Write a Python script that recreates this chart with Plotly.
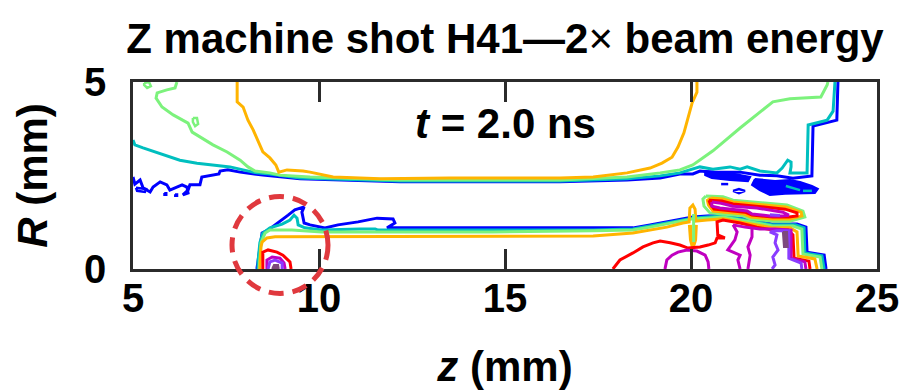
import plotly.graph_objects as go

# ---------------- data: contour polylines (z [mm], R [mm]) -------------
blue_top = [(5.00,2.46),(5.05,2.27),(5.19,2.38),(5.27,2.17),(5.46,2.06),(5.54,2.19),(5.73,2.33),(5.91,2.25),
            (5.99,2.11),(6.18,2.19),(6.32,2.25),(6.45,2.19),(6.48,2.03),(6.34,1.98),(6.48,2.11),(6.53,2.25),
            (6.80,2.25),(6.85,2.46),(7.07,2.49),(7.31,2.54),(7.34,2.62),(7.55,2.65),(7.88,2.59),(8.49,2.51),
            (9.49,2.41),(12.18,2.33),(16.48,2.33),(18.28,2.38),(19.17,2.43),(19.70,2.54),(20.05,2.54),
            (20.24,2.62),(20.59,2.59),(21.32,2.59),(21.85,2.51),(22.31,2.49),(22.74,2.43),(23.25,2.49),
            (23.28,3.82),(23.92,3.98),(23.95,5.0)]
blue_bits = [(5.08,2.17),(5.35,2.14),(5.32,2.06),(5.11,2.09),(5.08,2.17)]
blue_dot1 = [(5.84,2.03),(5.90,2.03),(5.90,1.98),(5.84,1.98),(5.84,2.03)]
blue_dot2 = [(6.13,2.00),(6.19,2.00),(6.19,1.95),(6.13,1.95),(6.13,2.00)]
blue_blob_a = [(20.38,2.62),(20.78,2.59),(21.18,2.54),(21.59,2.46),(21.53,2.35),(21.05,2.38),(20.56,2.43),(20.38,2.51),(20.38,2.62)]
blue_blob_b = [(21.72,2.41),(22.26,2.35),(22.66,2.38),(22.93,2.33),(23.25,2.22),(23.41,2.14),(23.33,2.03),
               (22.93,2.03),(22.53,2.01),(22.12,1.98),(21.85,2.11),(21.64,2.25),(21.72,2.41)]
blue_ellipse = [(21.13,2.09),(21.29,2.14),(21.45,2.09),(21.29,2.03),(21.13,2.09)]
blue_dash = [(20.81,2.27),(21.00,2.27)]
teal_bits1 = [(22.55,2.22),(22.93,2.11)]
teal_bits2 = [(23.01,2.09),(23.25,2.09)]

teal_top = [(5.0,3.45),(5.05,3.32),(5.27,3.24),(5.81,3.05),(6.26,2.91),(6.72,2.83),(7.15,2.78),(7.61,2.73),
            (7.96,2.65),(8.33,2.57),(8.68,2.54),(9.49,2.43),(12.18,2.35),(16.48,2.35),(18.28,2.41),(19.17,2.49),
            (19.70,2.57),(20.24,2.73),(20.59,2.67),(21.05,2.73),(21.32,2.67),(21.51,2.73),(21.85,2.62),
            (22.31,2.57),(22.45,2.70),(22.53,2.83),(22.60,2.91),(22.69,2.86),(22.69,2.73),(22.66,2.57),
            (23.12,2.57),(23.15,3.85),(23.66,3.98),(23.82,4.22),(23.87,5.0)]

green_top = [(6.18,5.0),(6.13,4.84),(5.91,4.79),(5.65,4.71),(5.62,4.57),(5.78,4.33),(6.08,4.12),(6.48,3.90),
             (6.59,3.66),(6.80,3.53),(7.15,3.32),(7.53,3.13),(7.88,2.91),(8.09,2.73),(8.28,2.62),(8.68,2.57),
             (8.95,2.51),(9.76,2.46),(12.18,2.38),(16.48,2.38),(18.28,2.46),(19.17,2.57),(19.70,2.65),
             (20.05,2.78),(20.59,3.16),(21.32,3.77),(22.20,4.47),(22.66,4.55),(23.49,4.60),(23.66,4.92),(23.68,5.0)]
green_loop1 = [(5.30,4.97),(5.43,5.0),(5.48,4.89),(5.38,4.84),(5.30,4.92),(5.30,4.97)]
green_loop2 = [(6.61,4.04),(6.72,4.04),(6.75,3.88),(6.67,3.82),(6.61,3.93),(6.61,4.04)]

orange_top = [(7.80,5.0),(7.80,4.47),(7.96,4.33),(8.09,3.98),(8.23,3.72),(8.36,3.40),(8.49,3.13),(8.68,2.97),
              (8.84,2.78),(8.92,2.59),(9.14,2.65),(9.57,2.62),(9.76,2.59),(10.38,2.46),(11.64,2.41),(13.52,2.43),
              (16.48,2.43),(17.37,2.46),(18.28,2.57),(18.90,2.70),(19.22,2.83),(19.49,2.99),(19.65,3.26),
              (19.81,3.64),(19.92,4.06),(20.03,4.44),(20.16,4.73),(20.16,5.0)]

blue_low = [(8.33,0.0),(8.36,0.19),(8.41,0.59),(8.47,0.96),(8.63,1.04),(8.90,1.23),(9.17,1.44),(9.35,1.58),
            (9.49,1.63),(9.60,1.66),(9.54,1.52),(9.60,1.23),(9.76,1.18),(10.08,1.12),(10.16,1.10),(10.51,1.18),
            (11.05,1.26),(11.56,1.36),(11.99,1.34),(12.04,1.23),(11.83,1.10),(12.18,1.10),(14.68,1.10),
            (17.37,1.10),(18.44,1.10),(18.90,1.18),(19.35,1.26),(19.78,1.34),(20.05,1.39),(20.43,1.42),
            (20.86,1.44),(21.32,1.36),(21.77,1.28),(22.20,1.20),(22.85,1.20),(23.09,1.12),(23.12,0.45),
            (23.58,0.37),(23.63,0.0)]
teal_low = [(8.36,0.0),(8.36,0.19),(8.41,0.70),(8.49,0.96),(8.68,1.10),(9.01,1.20),(9.22,1.31),(9.33,1.44),
            (9.41,1.36),(9.44,1.18),(9.62,1.10),(10.08,1.04),(11.10,1.07),(11.51,1.07),(11.59,1.04),(14.68,1.04),
            (17.37,1.04),(18.44,1.07),(18.90,1.15),(19.35,1.23),(19.78,1.31),(20.05,1.36),(20.43,1.39),
            (20.86,1.42),(21.32,1.34),(21.77,1.26),(22.20,1.18),(22.80,1.18),(23.04,1.10),(23.06,0.43),
            (23.52,0.35),(23.58,0.0)]
green_low = [(8.39,0.0),(8.41,0.24),(8.44,0.70),(8.55,0.96),(8.68,1.04),(9.27,1.04),(10.08,0.99),(11.51,0.99),
             (14.68,0.99),(17.37,1.02),(18.44,1.04),(18.90,1.12),(19.35,1.20),(19.78,1.28),(20.05,1.34),
             (20.43,1.36),(20.86,1.39),(21.32,1.31),(21.77,1.23),(22.20,1.15),(22.74,1.15),(22.98,1.07),
             (23.01,0.40),(23.47,0.32),(23.52,0.0)]
green_spike = [(20.07,1.47),(20.07,0.72)]
orange_low = [(8.41,0.0),(8.44,0.59),(8.47,0.72),(8.60,0.83),(8.82,0.86),(10.16,0.86),(11.51,0.86),(14.68,0.88),
              (17.37,0.88),(18.44,0.96),(18.90,1.04),(19.35,1.12),(19.78,1.23),(19.95,1.26),(19.97,1.63),
              (20.05,1.71),(20.11,1.60),(20.13,1.28),(20.43,1.31),(20.86,1.34),(21.32,1.26),(21.77,1.18),
              (22.20,1.10),(22.66,1.10),(22.85,0.99),(22.88,0.35),(23.33,0.27),(23.39,0.0)]
orange_spike = [(19.97,1.18),(20.00,0.78),(20.05,0.59),(20.11,0.78),(20.13,1.18)]

lens_green = [(20.40,1.95),(20.86,1.93),(21.13,1.84),(21.77,1.79),(22.58,1.71),(23.01,1.55),(23.06,1.39),
              (22.66,1.28),(22.20,1.28),(21.59,1.34),(21.40,1.42),(20.51,1.50),(20.35,1.68),(20.32,1.87),(20.40,1.95)]
lens_orange = [(20.54,1.90),(20.86,1.87),(21.13,1.79),(21.77,1.74),(22.55,1.66),(22.96,1.52),(22.98,1.42),
               (22.66,1.34),(22.20,1.34),(21.61,1.39),(21.42,1.47),(20.59,1.55),(20.47,1.71),(20.44,1.84),(20.54,1.90)]
lens_red = [(20.48,1.84),(20.83,1.82),(21.13,1.74),(21.77,1.68),(22.53,1.60),(22.85,1.50),(22.85,1.42),
            (22.63,1.39),(22.20,1.39),(21.64,1.44),(21.45,1.52),(20.62,1.60),(20.52,1.74),(20.48,1.84)]
lens_magenta = [(20.56,1.79),(20.81,1.76),(21.13,1.68),(21.77,1.63),(22.47,1.52),(22.63,1.44),(22.42,1.42),
                (22.12,1.42),(21.64,1.47),(21.51,1.55),(20.78,1.63),(20.56,1.68),(20.56,1.79)]
lens_violet = [(22.12,1.45),(22.39,1.43)]

red_low = [(17.90,0.0),(18.09,0.24),(18.44,0.43),(18.71,0.59),(18.98,0.70),(19.17,0.75),(19.44,0.70),
           (19.70,0.64),(19.92,0.56),(20.16,0.59),(20.24,0.59),(20.46,0.64),(20.65,0.70),(20.70,0.83),
           (20.91,0.83),(20.72,0.91),(20.70,1.26),(20.86,1.31),(21.32,1.23),(21.77,1.12),(22.20,1.04),
           (22.61,1.04),(22.74,0.91),(22.77,0.29),(23.17,0.21),(23.20,0.0)]
red_small = [(8.49,0.0),(8.49,0.45),(8.63,0.51),(8.87,0.45),(9.03,0.37),(9.22,0.19),(9.25,0.0)]
magenta_small = [(8.60,0.0),(8.60,0.24),(8.74,0.32),(8.95,0.29),(9.06,0.16),(9.09,0.0)]
violet_small = [(8.63,0.0),(8.68,0.19),(8.82,0.24),(9.01,0.16),(9.01,0.0)]
plum_small = [(8.74,0.0),(8.79,0.11),(8.90,0.11),(8.92,0.0)]

magenta_dome = [(19.30,0.0),(19.35,0.24),(19.49,0.37),(19.65,0.45),(19.89,0.51),(20.16,0.48),(20.38,0.37),
                (20.46,0.19),(20.48,0.0)]
magenta_right = [(21.13,1.18),(21.45,1.12),(21.85,1.07),(22.26,1.07),(22.69,1.04),(22.69,0.29),(23.06,0.19),(23.09,0.0)]
magenta_s2 = [(21.13,1.18),(21.24,0.99),(21.18,0.78),(21.05,0.59),(20.99,0.51),(21.13,0.45),(21.32,0.37),
              (21.26,0.24),(21.32,0.0)]
magenta_s3 = [(21.64,1.07),(21.64,0.86),(21.53,0.59),(21.59,0.37),(21.53,0.0)]
violet_right = [(22.18,0.0),(22.26,0.11),(22.20,0.32),(22.34,0.51),(22.26,0.70),(22.31,0.91),(22.12,0.99),
                (22.31,1.02),(22.63,1.02),(22.63,0.29),(22.96,0.16),(22.98,0.0)]
plum_patch = [(22.47,0.99),(22.58,0.99),(22.60,0.59),(22.50,0.59),(22.47,0.99)]

x_ticks = [5, 10, 15, 20, 25]
y_ticks = [0, 5]

BLUE, TEAL, GREEN, ORANGE = "#0000ff", "#00bfbf", "#7cf27c", "#ffb400"
RED, MAGENTA, VIOLET, PLUM = "#ff0000", "#c000c0", "#8a3cff", "#7d4a7d"

fig = go.Figure()


def add(pts, color, width=3, fill=False):
    fig.add_trace(go.Scatter(
        x=[p[0] for p in pts], y=[p[1] for p in pts], mode="lines",
        line=dict(color=color, width=width),
        fill="toself" if fill else None, fillcolor=color if fill else None,
        hoverinfo="skip", showlegend=False))


add(blue_top, BLUE)
add(blue_bits, BLUE, 2.5)
add(blue_dot1, BLUE, 2, True)
add(blue_dot2, BLUE, 2, True)
add(teal_top, TEAL)
add(green_top, GREEN)
add(green_loop1, GREEN, 2.5)
add(green_loop2, GREEN, 2.5)
add(orange_top, ORANGE)
add(blue_blob_a, BLUE, 2, True)
add(blue_blob_b, BLUE, 2, True)
add(blue_ellipse, BLUE, 2.5)
add(blue_dash, BLUE, 2.5)
add(teal_bits1, TEAL, 2.5)
add(teal_bits2, TEAL, 2.5)

add(blue_low, BLUE)
add(teal_low, TEAL)
add(green_low, GREEN)
add(orange_low, ORANGE)
add(orange_spike, ORANGE, 4)
add(green_spike, GREEN, 3)

add(lens_green, GREEN)
add(lens_orange, ORANGE)
add(lens_red, RED)
add(lens_magenta, MAGENTA)
add(lens_violet, VIOLET)

add(red_low, RED)
add(magenta_dome, MAGENTA)
add(magenta_right, MAGENTA)
add(magenta_s2, MAGENTA)
add(magenta_s3, MAGENTA)
add(violet_right, VIOLET)
add(plum_patch, PLUM, 2, True)

add(red_small, RED)
add(magenta_small, MAGENTA)
add(violet_small, VIOLET)
add(plum_small, PLUM, 2, True)

FONT = "Liberation Sans, Arial, Helvetica, sans-serif"

axis_common = dict(
    showline=True, linecolor="#2b2b2b", linewidth=2.5, mirror="allticks",
    ticks="inside", ticklen=20, tickwidth=2.5, tickcolor="#2b2b2b",
    showgrid=False, zeroline=False, automargin=False,
    tickfont=dict(family=FONT, size=40, color="black", weight="bold"),
)

fig.update_layout(
    width=903, height=390,
    margin=dict(l=133, r=26, t=82, b=121, pad=0, autoexpand=False),
    paper_bgcolor="white", plot_bgcolor="white",
    title=dict(
        text="Z machine shot H41—2<span style='font-weight:normal'>×</span> beam energy",
        x=0.5, xref="paper", xanchor="center",
        y=1 - 38 / 390, yref="container", yanchor="middle",
        font=dict(family=FONT, size=42, color="black", weight="bold"),
    ),
    xaxis=dict(range=[5, 25], tickvals=x_ticks, ticktext=[str(v) for v in x_ticks],
               ticklabelstandoff=-8,
               title=dict(text="<i>z</i> (mm)", standoff=43,
                          font=dict(family=FONT, size=42, color="black", weight="bold")),
               **axis_common),
    yaxis=dict(range=[0, 5], tickvals=y_ticks, ticktext=[str(v) for v in y_ticks],
               ticklabelstandoff=16,
               title=dict(text="<i>R</i> (mm)", standoff=24,
                          font=dict(family=FONT, size=42, color="black", weight="bold")),
               **axis_common),
    annotations=[dict(
        text="<i>t</i> = 2.0 ns", x=15, y=3.9, xref="x", yref="y",
        xanchor="center", yanchor="middle", showarrow=False,
        font=dict(family=FONT, size=42, color="black", weight="bold"),
    )],
    shapes=[dict(
        type="circle", xref="paper", yref="paper",
        x0=(232 - 133) / 744, x1=(328 - 133) / 744,
        y0=(269 - 293.5) / 187, y1=(269 - 196.5) / 187,
        line=dict(color="#e0393e", width=5, dash="15px,9px"),
        layer="above",
    )],
)

fig.write_html("out.html")
